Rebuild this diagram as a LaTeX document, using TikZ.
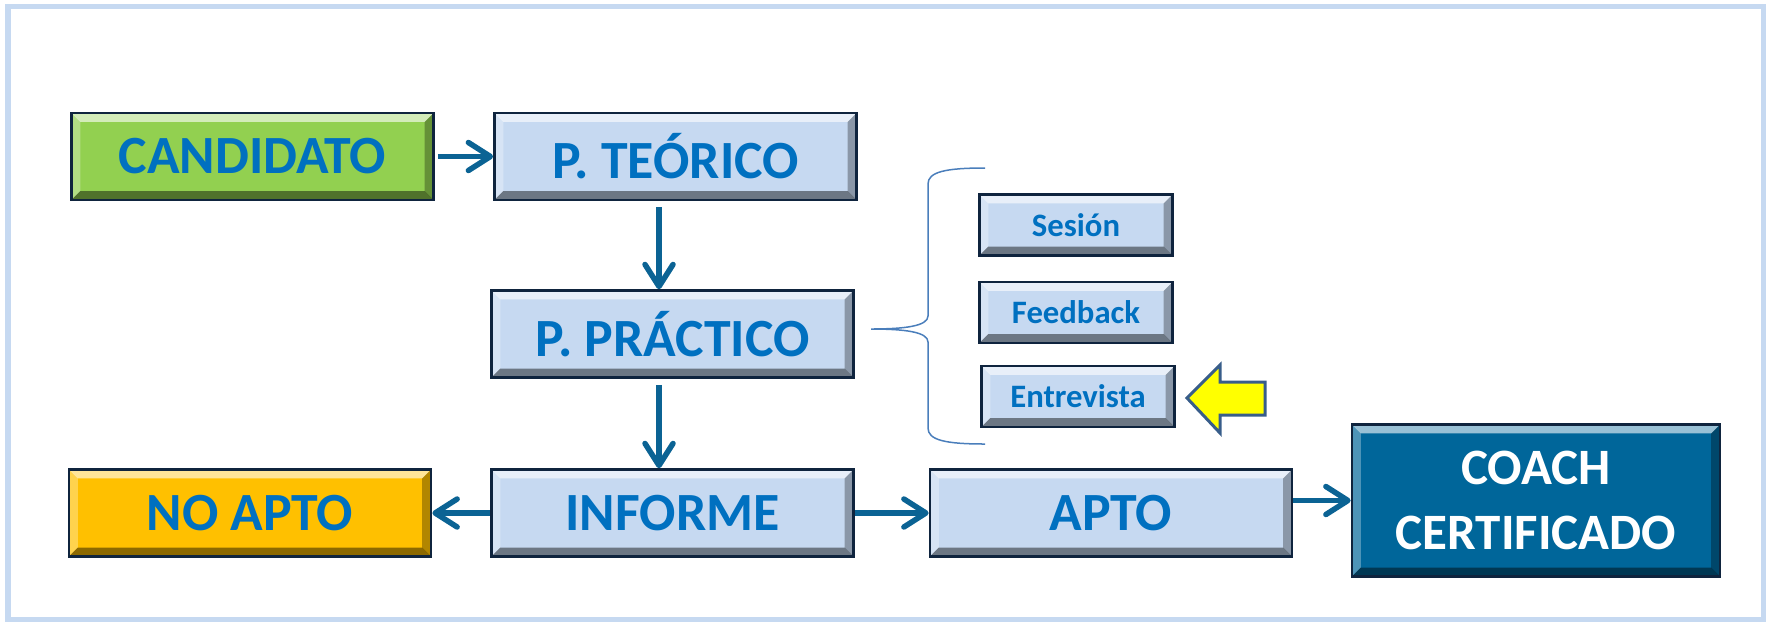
\documentclass[tikz,border=0pt]{standalone}
\usepackage{fontspec}
\setmainfont{Carlito}
\usetikzlibrary{arrows.meta}
\definecolor{txtblue}{HTML}{0070C0}
\definecolor{boxblue}{HTML}{C6D9F1}
\definecolor{boxgreen}{HTML}{92D050}
\definecolor{boxgold}{HTML}{FFC000}
\definecolor{boxnavy}{HTML}{00669A}
\definecolor{edgecol}{HTML}{0F243E}
\definecolor{arrowblue}{HTML}{0B6394}
\definecolor{framecol}{HTML}{C6D9F1}
\definecolor{bracecol}{HTML}{4A7EBB}
\definecolor{flagyellow}{HTML}{FFFF00}
\definecolor{flagedge}{HTML}{385D8A}
\newcommand{\bw}{0.09cm}
\tikzset{
  bevel/.style={path picture={
    \path (path picture bounding box.south west) coordinate (pa)
          (path picture bounding box.north east) coordinate (pb)
          (pa|-pb) coordinate (pc) (pb|-pa) coordinate (pd);
    \fill[white,opacity=.6] (pc) -- (pb) -- ([shift={(-\bw,-\bw)}]pb) -- ([shift={(\bw,-\bw)}]pc) -- cycle;
    \fill[white,opacity=.3] (pa) -- (pc) -- ([shift={(\bw,-\bw)}]pc) -- ([shift={(\bw,\bw)}]pa) -- cycle;
    \fill[black,opacity=.45] (pa) -- (pd) -- ([shift={(-\bw,\bw)}]pd) -- ([shift={(\bw,\bw)}]pa) -- cycle;
    \fill[black,opacity=.3] (pd) -- (pb) -- ([shift={(-\bw,-\bw)}]pb) -- ([shift={(-\bw,\bw)}]pd) -- cycle;
  }},
  stage/.style={draw=edgecol,line width=0.025cm,fill=boxblue,bevel,text=txtblue,
    font=\bfseries\fontsize{15.3}{18}\selectfont,inner sep=0pt,
    minimum width=3.62cm,minimum height=0.87cm},
  substage/.style={stage,font=\bfseries\fontsize{9.3}{11}\selectfont,
    minimum width=1.93cm,minimum height=0.61cm},
  flow/.style={draw=arrowblue,line width=0.055cm,
    -{Straight Barb[length=0.22cm,width=0.28cm,round]}}
}
\begin{document}
\begin{tikzpicture}[x=0.01cm,y=-0.01cm]
  \useasboundingbox (0,0) rectangle (1767,624);
  \draw[framecol,line width=0.05cm] (8,6) rectangle (1763,619);
  % main column
  \node[stage,fill=boxgreen] (cand) at (252.5,156.5) {CANDIDATO};
  \node[stage] (teor) at (675.5,156.5) {P. TEÓRICO};
  \node[stage] (prac) at (672.5,334) {P. PRÁCTICO};
  \node[stage] (inf) at (672.5,513) {INFORME};
  \node[stage,fill=boxgold] (noapto) at (250,513) {NO APTO};
  \node[stage] (apto) at (1111,513) {APTO};
  \node[stage,fill=boxnavy,text=white,align=center,
        font=\bfseries\fontsize{14.5}{18.5}\selectfont,
        minimum width=3.68cm,minimum height=1.52cm] (coach) at (1536,500.5) {COACH\\CERTIFICADO};
  % practical steps
  \node[substage] (ses) at (1076,225) {Sesión};
  \node[substage] (feed) at (1076,312.5) {Feedback};
  \node[substage] (entr) at (1078,396.5) {Entrevista};
  % connectors
  \coordinate (colx) at (659,0);
  \draw[flow,shorten <=0.03cm] (cand) -- (teor);
  \draw[flow,shorten <=0.06cm] (teor.south -| colx) -- (prac.north -| colx);
  \draw[flow,shorten <=0.06cm] (prac.south -| colx) -- (inf.north -| colx);
  \draw[flow] (inf) -- (noapto);
  \draw[flow] (inf) -- (apto);
  \draw[flow] (apto.east |- coach.west) -- (coach.west);
  % brace
  \draw[bracecol,line width=0.015cm] (985,168) .. controls (945,168) and (928,172) .. (928,184)
    -- (928,316) .. controls (928,326) and (905,329) .. (871,329)
    .. controls (905,329) and (928,332) .. (928,342)
    -- (928,428) .. controls (928,440) and (945,444) .. (985,444);
  % pointer
  \draw[flagedge,fill=flagyellow,line width=0.03cm,line join=miter]
    (1187,398) -- (1220,365) -- (1220,382) -- (1265,382) -- (1265,415)
    -- (1220,415) -- (1220,433) -- cycle;
\end{tikzpicture}
\end{document}
